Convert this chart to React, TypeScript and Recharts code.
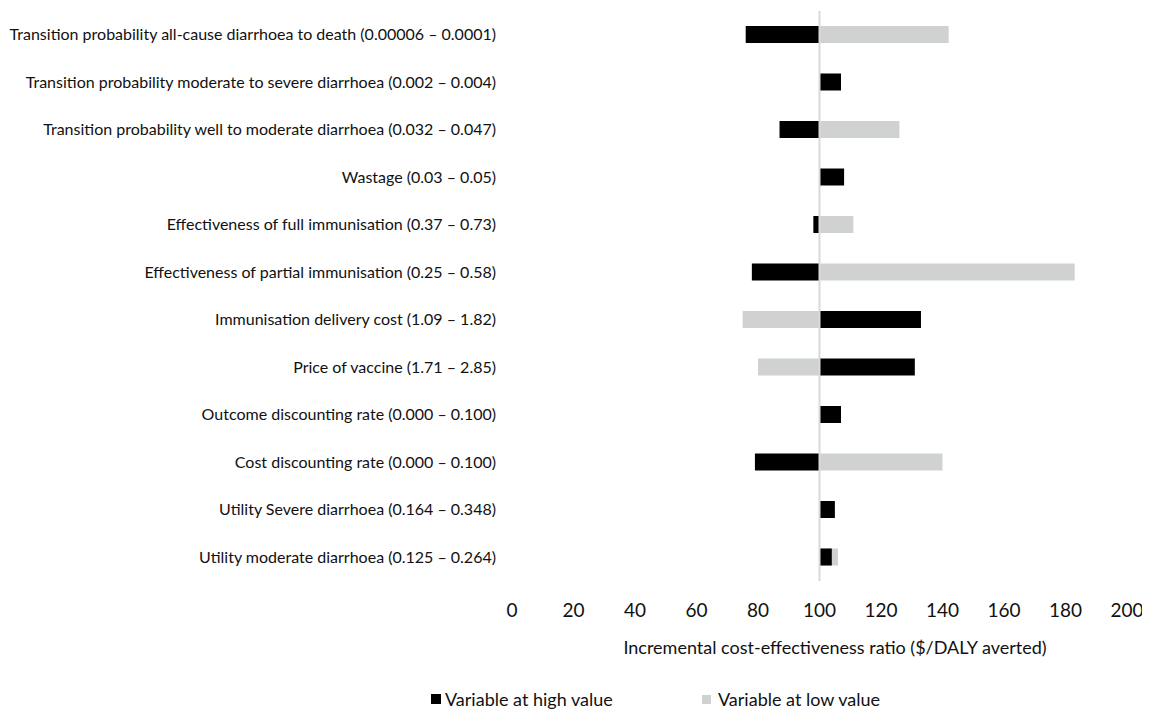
import React from 'react';
import { BarChart, Bar, XAxis, YAxis, ReferenceLine } from 'recharts';

// Parameters shown on the y axis (top to bottom)
const parameters = [
  'Transition probability all-cause diarrhoea to death (0.00006 – 0.0001)',
  'Transition probability moderate to severe diarrhoea (0.002 – 0.004)',
  'Transition probability well to moderate diarrhoea (0.032 – 0.047)',
  'Wastage (0.03 – 0.05)',
  'Effectiveness of full immunisation (0.37 – 0.73)',
  'Effectiveness of partial immunisation (0.25 – 0.58)',
  'Immunisation delivery cost (1.09 – 1.82)',
  'Price of vaccine (1.71 – 2.85)',
  'Outcome discounting rate (0.000 – 0.100)',
  'Cost discounting rate (0.000 – 0.100)',
  'Utility Severe diarrhoea (0.164 – 0.348)',
  'Utility moderate diarrhoea (0.125 – 0.264)',
];

// ICER when variable at high value / low value
const highValues = [76, 107, 87, 108, 98, 78, 133, 131, 107, 79, 105, 104];
const lowValues = [142, 100, 126, 100, 111, 183, 75, 80, 100, 140, 100, 106];

const baseCase = 100;
const xTicks = [0, 20, 40, 60, 80, 100, 120, 140, 160, 180, 200];

const seriesNames = { high: 'Variable at high value', low: 'Variable at low value' };
const axisTitle = 'Incremental cost-effectiveness ratio ($/DALY averted)';

const HIGH_COLOR = '#000000';
const LOW_COLOR = '#d0d2d1';
const FONT = 'Lato, "Open Sans", sans-serif';

const data = parameters.map((name, i) => ({
  name,
  high: highValues[i],
  low: lowValues[i],
}));

// bars grow out from the base case
const range = (v: number) => [Math.min(baseCase, v), Math.max(baseCase, v)];

const App: React.FC = () => {
  return (
    <div style={{ position: 'relative', width: 1142, height: 704, fontFamily: FONT }}>
      <BarChart
        width={1142}
        height={704}
        data={data}
        layout="vertical"
        margin={{ top: 3, right: 23, left: 0, bottom: 71 }}
        barSize={17}
        barGap={-17}
      >
        <XAxis
          type="number"
          domain={[0, 200]}
          ticks={xTicks}
          axisLine={false}
          tickLine={false}
          tickMargin={17}
          height={60}
          tick={{ fill: '#111', fontSize: 19, fontFamily: FONT }}
        />
        <YAxis
          type="category"
          dataKey="name"
          width={504}
          interval={0}
          axisLine={false}
          tickLine={false}
          tickMargin={10}
          tick={{ fill: '#111', fontSize: 16, fontFamily: FONT }}
        />
        <Bar dataKey={(d: any) => range(d.low)} name={seriesNames.low} fill={LOW_COLOR} isAnimationActive={false} />
        <Bar dataKey={(d: any) => range(d.high)} name={seriesNames.high} fill={HIGH_COLOR} isAnimationActive={false} />
        <ReferenceLine x={baseCase} stroke="#d9d9d9" strokeWidth={2} />
      </BarChart>

      {/* Axis title (sits a little right of the plot centre in the original) */}
      <div style={{ position: 'absolute', top: 628, left: 527, width: 600, textAlign: 'center', fontSize: 18, color: '#111' }}>
        {axisTitle}
      </div>

      {/* Legend */}
      <div style={{ position: 'absolute', top: 680, left: 423, display: 'flex', alignItems: 'center', fontSize: 18, color: '#111' }}>
        <span style={{ width: 10, height: 10, background: HIGH_COLOR, display: 'inline-block', marginRight: 4 }} />
        <span>{seriesNames.high}</span>
      </div>
      <div style={{ position: 'absolute', top: 680, left: 694, display: 'flex', alignItems: 'center', fontSize: 18, color: '#111' }}>
        <span style={{ width: 9, height: 9, background: LOW_COLOR, display: 'inline-block', marginRight: 7 }} />
        <span>{seriesNames.low}</span>
      </div>
    </div>
  );
};

export default App;
